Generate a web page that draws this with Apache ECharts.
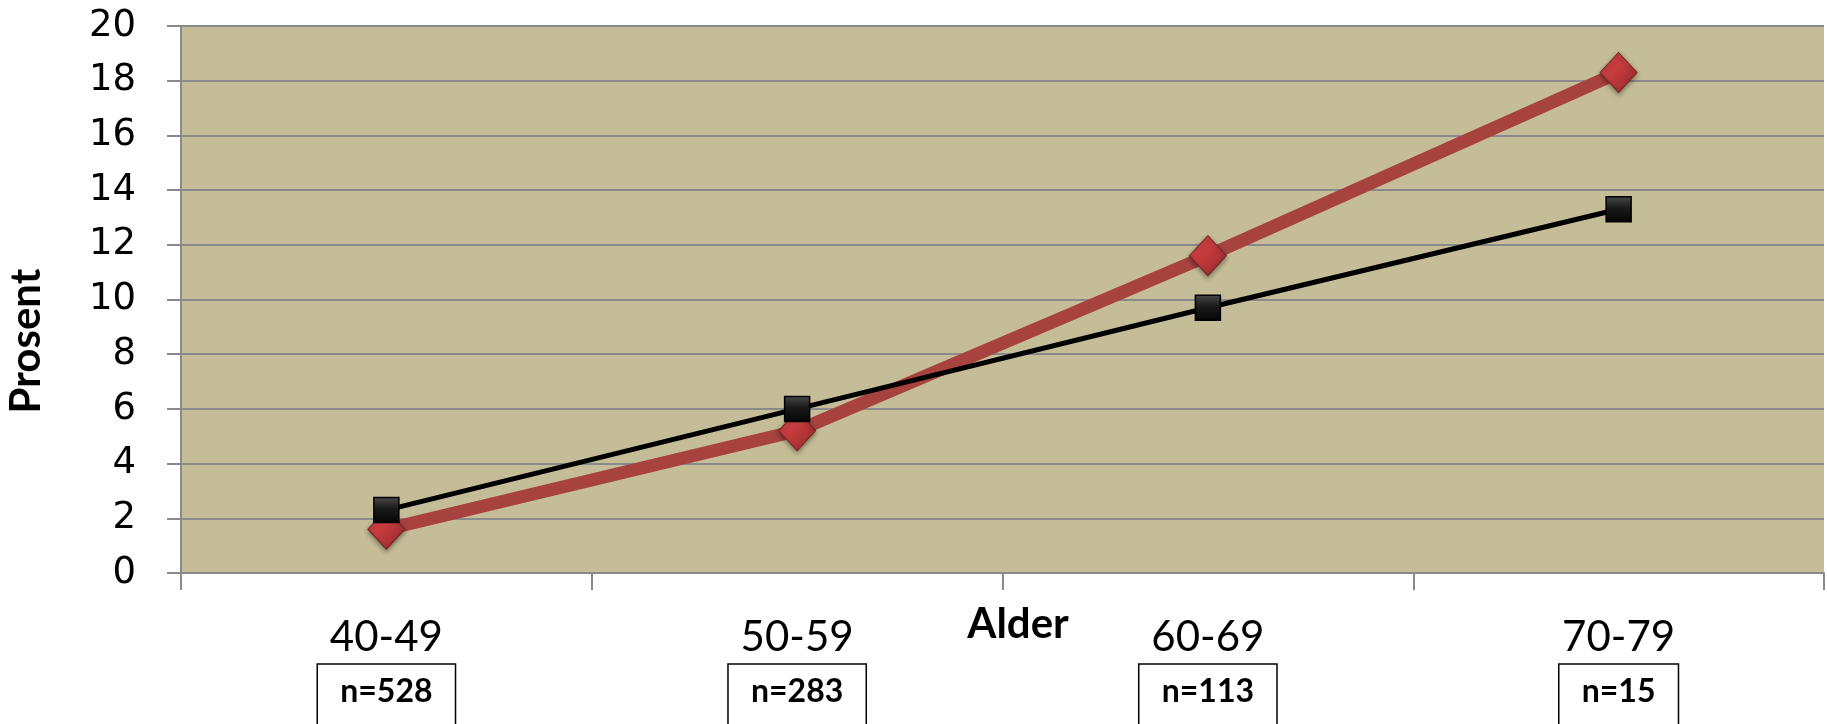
<!DOCTYPE html>
<html>
<head>
<meta charset="utf-8">
<script src="https://cdn.jsdelivr.net/npm/echarts@6/dist/echarts.min.js"></script>
<style>
  html, body { margin: 0; padding: 0; background: #ffffff; }
  #chart { width: 1827px; height: 724px; }
</style>
</head>
<body>
<div id="chart"></div>
<script>
// Age groups on the category axis and the sample size shown under each
const ageGroups = ['40-49', '50-59', '60-69', '70-79'];
const sampleSizes = ['n=528', 'n=283', 'n=113', 'n=15'];

// Percentages per age group
const seriesRed = [1.6, 5.2, 11.6, 18.3];
const seriesBlack = [2.3, 6.0, 9.7, 13.3];

// Value axis range
const yMin = 0;
const yMax = 20;
const yStep = 2;

const gridGray = '#8a8a8a';

const chart = echarts.init(document.getElementById('chart'), null, { renderer: 'canvas' });

chart.setOption({
  backgroundColor: '#ffffff',
  animation: false,
  grid: {
    left: 181, right: 3, top: 26, bottom: 151,
    containLabel: false,
    outerBoundsMode: 'none',
    show: true,
    backgroundColor: '#C4BD97',
    borderWidth: 0
  },
  xAxis: {
    type: 'category',
    data: ageGroups,
    boundaryGap: true,
    name: 'Alder',
    nameLocation: 'middle',
    nameGap: 30,
    nameMoveOverlap: false,
    nameTextStyle: {
      fontFamily: 'Lato', fontWeight: 'bold', fontSize: 42, color: '#000',
      verticalAlign: 'top', padding: [0, 0, 0, 31]
    },
    axisLine: { show: true, lineStyle: { color: gridGray, width: 2 } },
    axisTick: { show: true, alignWithLabel: false, length: 17, lineStyle: { color: gridGray, width: 2 } },
    axisLabel: {
      margin: 37,
      interval: 0,
      formatter: function (value, index) {
        return '{cat|' + value + '}\n{n|' + sampleSizes[index] + '}';
      },
      rich: {
        cat: { fontFamily: 'Lato', fontSize: 42, color: '#000', lineHeight: 54, align: 'center' },
        n: {
          fontFamily: 'Lato', fontWeight: 'bold', fontSize: 32, color: '#000',
          align: 'center',
          borderColor: '#000', borderWidth: 1.5,
          padding: [12, 23, 40, 23]
        }
      }
    },
    splitLine: { show: false }
  },
  yAxis: {
    type: 'value',
    min: yMin, max: yMax, interval: yStep,
    name: 'Prosent',
    nameLocation: 'middle',
    nameGap: 134,
    nameMoveOverlap: false,
    nameTextStyle: {
      fontFamily: 'Lato', fontWeight: 'bold', fontSize: 42, color: '#000',
      padding: [0, 83, 0, 0]
    },
    axisLine: { show: true, lineStyle: { color: gridGray, width: 2 } },
    axisTick: { show: true, length: 14, lineStyle: { color: gridGray, width: 2 } },
    axisLabel: {
      margin: 45,
      fontFamily: 'DejaVu Sans', fontSize: 37, color: '#000'
    },
    splitLine: { show: true, lineStyle: { color: gridGray, width: 2 } }
  },
  series: [
    {
      name: 'red',
      type: 'line',
      data: seriesRed,
      symbol: 'diamond',
      symbolSize: [37, 40],
      lineStyle: { color: '#A8423F', width: 13 },
      itemStyle: {
        color: new echarts.graphic.LinearGradient(0, 0, 1, 1, [
          { offset: 0, color: '#D9474A' },
          { offset: 0.5, color: '#C0393B' },
          { offset: 1, color: '#8E2A2A' }
        ]),
        borderColor: '#7a2424',
        borderWidth: 1,
        shadowBlur: 5,
        shadowColor: 'rgba(0,0,0,0.4)',
        shadowOffsetY: 2
      },
      z: 2
    },
    {
      name: 'black',
      type: 'line',
      data: seriesBlack,
      symbol: 'rect',
      symbolSize: [25, 25],
      lineStyle: { color: '#000000', width: 5 },
      itemStyle: {
        color: new echarts.graphic.LinearGradient(0, 0, 0, 1, [
          { offset: 0, color: '#4a4a4a' },
          { offset: 0.45, color: '#1a1a1a' },
          { offset: 1, color: '#050505' }
        ]),
        borderColor: '#000',
        borderWidth: 1.5
      },
      z: 3
    }
  ]
});
</script>
</body>
</html>
